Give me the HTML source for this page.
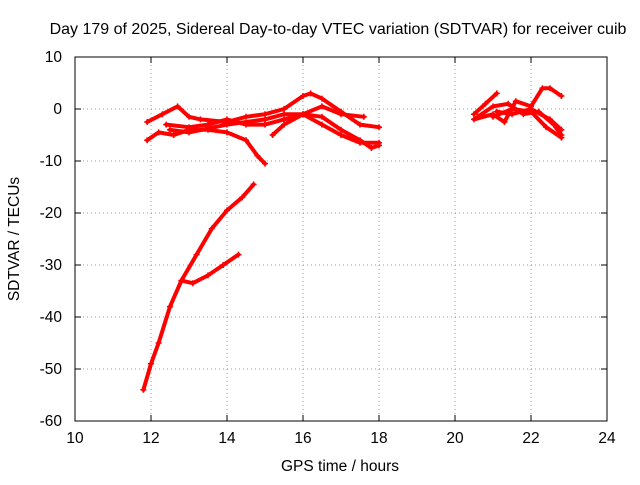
<!DOCTYPE html>
<html><head><meta charset="utf-8"><style>
body{margin:0;background:#fff}
text{font-family:"Liberation Sans",sans-serif;font-size:15.5px;fill:#000}
</style></head><body>
<svg id="chart" width="640" height="480" xmlns="http://www.w3.org/2000/svg">
<rect width="640" height="480" fill="#fff"/>
<text x="338" y="34" text-anchor="middle" style="font-size:16px">Day 179 of 2025, Sidereal Day-to-day VTEC variation (SDTVAR) for receiver cuib</text>
<g id="grid"></g>
<g id="ticks"></g>
<g id="series"></g>
<rect x="75" y="57" width="532" height="364" fill="none" stroke="#000"/>
<text x="340" y="471" text-anchor="middle">GPS time / hours</text>
<text transform="translate(19,239) rotate(-90)" text-anchor="middle">SDTVAR / TECUs</text>
</svg>
<script>
const xTicks=[10,12,14,16,18,20,22,24];
const yTicks=[10,0,-10,-20,-30,-40,-50,-60];
const tr1x=[11.8,12.0,12.2,12.5,12.8,13.2,13.6,14.0,14.4,14.7];
const tr1y=[-54,-49,-45,-38,-33,-28,-23,-19.5,-17,-14.5];
const tr2x=[12.8,13.1,13.5,13.9,14.3];
const tr2y=[-33,-33.5,-32,-30,-28];
const tr3x=[11.9,12.3,12.7,13.0,13.3,14.0,14.5,15.0,15.5,16.0,16.2,16.5,17.0,17.5,18.0];
const tr3y=[-2.5,-1,0.5,-1.5,-2,-2.5,-1.5,-1,0,2.5,3,2,-0.5,-3,-3.5];
const tr4x=[11.9,12.2,12.6,13.0,13.5,14.0,14.5,14.8,15.0];
const tr4y=[-6,-4.5,-5,-4,-4,-4.5,-6,-9,-10.5];
const tr5x=[12.4,13.0,13.5,14.0,14.5,15.0,15.5,16.0,16.5,17.0,17.5,17.8,18.0];
const tr5y=[-3,-3.5,-3,-2,-3,-3,-2,-1,-1.5,-4,-6,-7.5,-7];
const tr6x=[12.5,13.0,14.0,15.0,15.5,16.0,16.5,17.0,17.6];
const tr6y=[-4,-4.5,-3,-2,-1,-1,0.5,-1,-1.5];
const tr7x=[15.2,15.5,16.0,16.5,17.0,17.5,18.0];
const tr7y=[-5,-3,-1,-3,-5,-6.5,-6.5];
const tr8x=[20.5,20.8,21.1];
const tr8y=[-1,1,3];
const tr9x=[20.5,21.0,21.3,21.6,22.0,22.3,22.5,22.8];
const tr9y=[-2,-1,-2.5,1.5,0.5,4,4,2.5];
const tr10x=[20.6,21.0,21.4,21.8,22.2,22.6,22.8];
const tr10y=[-1.5,0.5,1,-1,-0.5,-3,-5];
const tr11x=[21.0,21.5,22.0,22.4,22.8];
const tr11y=[-1.5,0,-0.5,-3.5,-5.5];
const tr12x=[21.1,21.5,22.0,22.5,22.8];
const tr12y=[-0.5,-1,0,-2,-4];
const traces=[[tr1x,tr1y],[tr2x,tr2y],[tr3x,tr3y],[tr4x,tr4y],[tr5x,tr5y],[tr6x,tr6y],[tr7x,tr7y],[tr8x,tr8y],[tr9x,tr9y],[tr10x,tr10y],[tr11x,tr11y],[tr12x,tr12y]];
const NS="http://www.w3.org/2000/svg";
function X(v){return 75+(v-10)/14*532;}
function Y(v){return 57+(10-v)/70*364;}
function mk(t,a,p){const e=document.createElementNS(NS,t);for(const k in a)e.setAttribute(k,a[k]);p.appendChild(e);return e;}
const g=document.getElementById('grid'),tk=document.getElementById('ticks'),s=document.getElementById('series');
xTicks.forEach(v=>{
 if(v>10&&v<24){const l=mk('line',{x1:X(v),x2:X(v),y1:57,y2:421,stroke:'#999','stroke-dasharray':'1,3'},g);}
 const t=mk('text',{x:X(v),y:443,'text-anchor':'middle'},tk);t.textContent=v;
 
 mk('line',{x1:X(v),x2:X(v),y1:421,y2:415,stroke:'#000'},tk);mk('line',{x1:X(v),x2:X(v),y1:57,y2:63,stroke:'#000'},tk);
});
yTicks.forEach(v=>{
 if(v<10&&v>-60){const l=mk('line',{x1:75,x2:607,y1:Y(v),y2:Y(v),stroke:'#999','stroke-dasharray':'1,3'},g);}
 const t=mk('text',{x:62,y:Y(v)+5,'text-anchor':'end'},tk);t.textContent=v;
 
 mk('line',{x1:75,x2:81,y1:Y(v),y2:Y(v),stroke:'#000'},tk);mk('line',{x1:607,x2:601,y1:Y(v),y2:Y(v),stroke:'#000'},tk);
});
traces.forEach(([xs,ys])=>{
 const pts=xs.map((x,i)=>X(x)+','+Y(ys[i])).join(' ');
 const pl=mk('polyline',{points:pts,fill:'none',stroke:'#f00','stroke-width':4,'stroke-linejoin':'round','stroke-linecap':'round'},s);
 
 
 xs.forEach((x,i)=>{const cx=X(x),cy=Y(ys[i]);
  const p=mk('path',{d:`M${cx-3},${cy}h6M${cx},${cy-3}v6`,stroke:'#f00','stroke-width':1.5},s);
  
  });
});
</script>
</body></html>
